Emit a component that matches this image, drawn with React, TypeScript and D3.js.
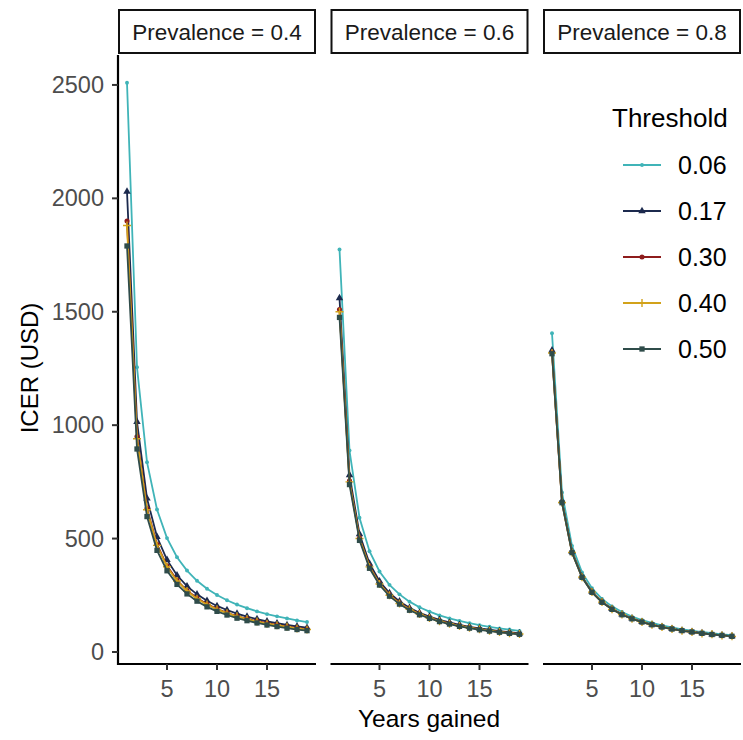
import React from "react";
import * as d3 from "d3";

const years = [1,2,3,4,5,6,7,8,9,10,11,12,13,14,15,16,17,18,19];
const prevalences = ["0.4", "0.6", "0.8"];
const thresholds = ["0.06", "0.17", "0.30", "0.40", "0.50"];
const colors = ["#40b4b8", "#1c2a4e", "#8e1c1c", "#d2a21a", "#2f4c4a"];
const shapes = ["dot", "triangle", "circle", "plus", "square"];

// ICER values per prevalence panel, per threshold
const prev04_t006 = [2510,1255,837,628,502,418,359,314,279,251,228,209,193,179,167,157,148,139,132];
const prev04_t017 = [2030,1015,677,508,406,338,290,254,226,203,185,169,156,145,135,127,119,113,107];
const prev04_t030 = [1900,950,633,475,380,317,271,238,211,190,173,158,146,136,127,119,112,106,100];
const prev04_t040 = [1880,940,627,470,376,313,269,235,209,188,171,157,145,134,125,118,111,104,99];
const prev04_t050 = [1790,895,597,448,358,298,256,224,199,179,163,149,138,128,119,112,105,99,94];

const prev06_t006 = [1775,888,592,444,355,296,254,222,197,178,161,148,137,127,118,111,104,99,93];
const prev06_t017 = [1560,780,520,390,312,260,223,195,173,156,142,130,120,111,104,98,92,87,82];
const prev06_t030 = [1510,755,503,378,302,252,216,189,168,151,137,126,116,108,101,94,89,84,79];
const prev06_t040 = [1500,750,500,375,300,250,214,188,167,150,136,125,115,107,100,94,88,83,79];
const prev06_t050 = [1475,738,492,369,295,246,211,184,164,148,134,123,113,105,98,92,87,82,78];

const prev08_t006 = [1405,703,468,351,281,234,201,176,156,141,128,117,108,100,94,88,83,78,74];
const prev08_t017 = [1330,665,443,333,266,222,190,166,148,133,121,111,102,95,89,83,78,74,70];
const prev08_t030 = [1320,660,440,330,264,220,189,165,147,132,120,110,102,94,88,83,78,73,69];
const prev08_t040 = [1318,659,439,330,264,220,188,165,146,132,120,110,101,94,88,82,78,73,69];
const prev08_t050 = [1315,658,438,329,263,219,188,164,146,132,120,110,101,94,88,82,77,73,69];

const panelData = [
  [prev04_t006, prev04_t017, prev04_t030, prev04_t040, prev04_t050],
  [prev06_t006, prev06_t017, prev06_t030, prev06_t040, prev06_t050],
  [prev08_t006, prev08_t017, prev08_t030, prev08_t040, prev08_t050],
];

const xTicks = [5, 10, 15];
const yTicks = [0, 500, 1000, 1500, 2000, 2500];

const FONT = "'Liberation Sans', Arial, sans-serif";

function Marker({ shape, x, y, color }: { shape: string; x: number; y: number; color: string }) {
  if (shape === "plus") {
    return (
      <path d={`M${x - 4},${y}H${x + 4}M${x},${y - 4}V${y + 4}`} stroke={color} strokeWidth={1.4} />
    );
  }
  const typeMap: Record<string, any> = {
    dot: d3.symbolCircle,
    circle: d3.symbolCircle,
    triangle: d3.symbolTriangle,
    square: d3.symbolSquare,
  };
  const sizeMap: Record<string, number> = { dot: 12, circle: 20, triangle: 24, square: 28 };
  const p = d3.symbol().type(typeMap[shape]).size(sizeMap[shape])();
  return <path d={p || ""} transform={`translate(${x},${y})`} fill={color} />;
}

export default function App() {
  const W = 743, H = 740;
  const panelLeft0 = 118, panelW = 198, panelStep = 212.5;
  const top = 55, bottom = 664;
  const y = d3.scaleLinear().domain([-53, 2632]).range([bottom, top]);

  return (
    <svg width={W} height={H} style={{ position: "absolute", left: 0, top: 0, background: "#fff" }} fontFamily={FONT}>
      <rect x={0} y={0} width={W} height={H} fill="#fff" />
      {panelData.map((series, pi) => {
        const left = panelLeft0 + pi * panelStep;
        const x = d3.scaleLinear().domain([0.1, 19.9]).range([left, left + panelW]);
        const line = d3.line<number>().x((_, i) => x(years[i])).y((d) => y(d));
        return (
          <g key={pi}>
            {/* strip */}
            <rect x={left + 1} y={10} width={panelW - 2} height={43} fill="#fff" stroke="#111" strokeWidth={2} />
            <text x={left + panelW / 2} y={32} textAnchor="middle" dominantBaseline="central" fontSize={22.5} fill="#1a1a1a">
              {`Prevalence = ${prevalences[pi]}`}
            </text>
            {/* series */}
            {series.map((vals, si) => (
              <g key={si}>
                <path d={line(vals) || ""} fill="none" stroke={colors[si]} strokeWidth={1.8} />
                {vals.map((v, i) => (
                  <Marker key={i} shape={shapes[si]} x={x(years[i])} y={y(v)} color={colors[si]} />
                ))}
              </g>
            ))}
            {/* x axis */}
            <line x1={left} x2={left + panelW} y1={bottom} y2={bottom} stroke="#000" strokeWidth={2.2} />
            {xTicks.map((t) => (
              <g key={t}>
                <line x1={x(t)} x2={x(t)} y1={bottom} y2={bottom + 6} stroke="#333" strokeWidth={2} />
                <text x={x(t)} y={697} textAnchor="middle" fontSize={23.5} fill="#4d4d4d">{t}</text>
              </g>
            ))}
          </g>
        );
      })}
      {/* y axis */}
      <line x1={panelLeft0} x2={panelLeft0} y1={top} y2={bottom + 1} stroke="#000" strokeWidth={2.2} />
      {yTicks.map((t) => (
        <g key={t}>
          <line x1={panelLeft0 - 6} x2={panelLeft0} y1={y(t)} y2={y(t)} stroke="#333" strokeWidth={2} />
          <text x={104} y={y(t)} textAnchor="end" dominantBaseline="central" fontSize={23.5} fill="#4d4d4d">{t}</text>
        </g>
      ))}
      {/* axis titles */}
      <text x={429} y={727} textAnchor="middle" fontSize={24.5} fill="#000">Years gained</text>
      <text transform={`translate(38,368) rotate(-90)`} textAnchor="middle" fontSize={24} fill="#000">ICER (USD)</text>
      {/* legend */}
      <text x={612} y={127} fontSize={26} fill="#000">Threshold</text>
      {thresholds.map((t, i) => {
        const cy = 165 + i * 46;
        return (
          <g key={t}>
            <line x1={623} x2={661} y1={cy} y2={cy} stroke={colors[i]} strokeWidth={1.8} />
            <Marker shape={shapes[i]} x={642} y={cy} color={colors[i]} />
            <text x={678} y={cy} dominantBaseline="central" fontSize={25} fill="#000">{t}</text>
          </g>
        );
      })}
    </svg>
  );
}
